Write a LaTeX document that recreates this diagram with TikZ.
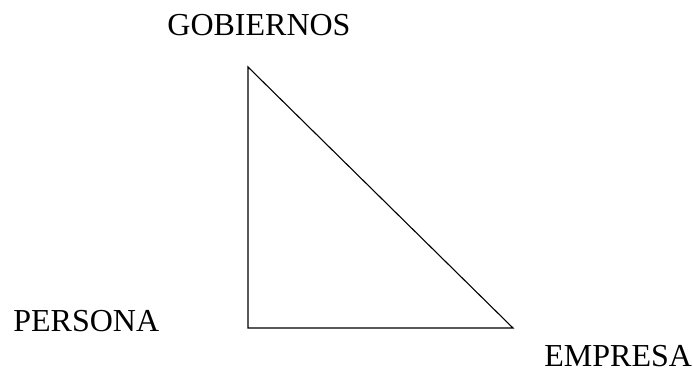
\documentclass[tikz,border=0pt]{standalone}
\usepackage{fontspec}
\setmainfont{Liberation Serif}
\tikzset{
  actor/.style={font=\fontsize{16}{19}\selectfont,inner sep=0pt,anchor=base west},
  side/.style={black,line width=0.55pt}
}
\begin{document}
\begin{tikzpicture}[x=0.5pt,y=-0.5pt]
    \useasboundingbox (0,0) rectangle (693,370);
    % vertices of the triangle
    \coordinate (gob) at (248,67);
    \coordinate (per) at (248,328);
    \coordinate (emp) at (513,328);
    \draw[side] (gob) -- (per) -- (emp) -- cycle;
    % labels
    \node[actor] (lgob) at (167,35) {GOBIERNOS};
    \node[actor] (lper) at (13,331) {PERSONA};
    \node[actor] (lemp) at (544,366) {EMPRESA};
  \end{tikzpicture}
\end{document}
